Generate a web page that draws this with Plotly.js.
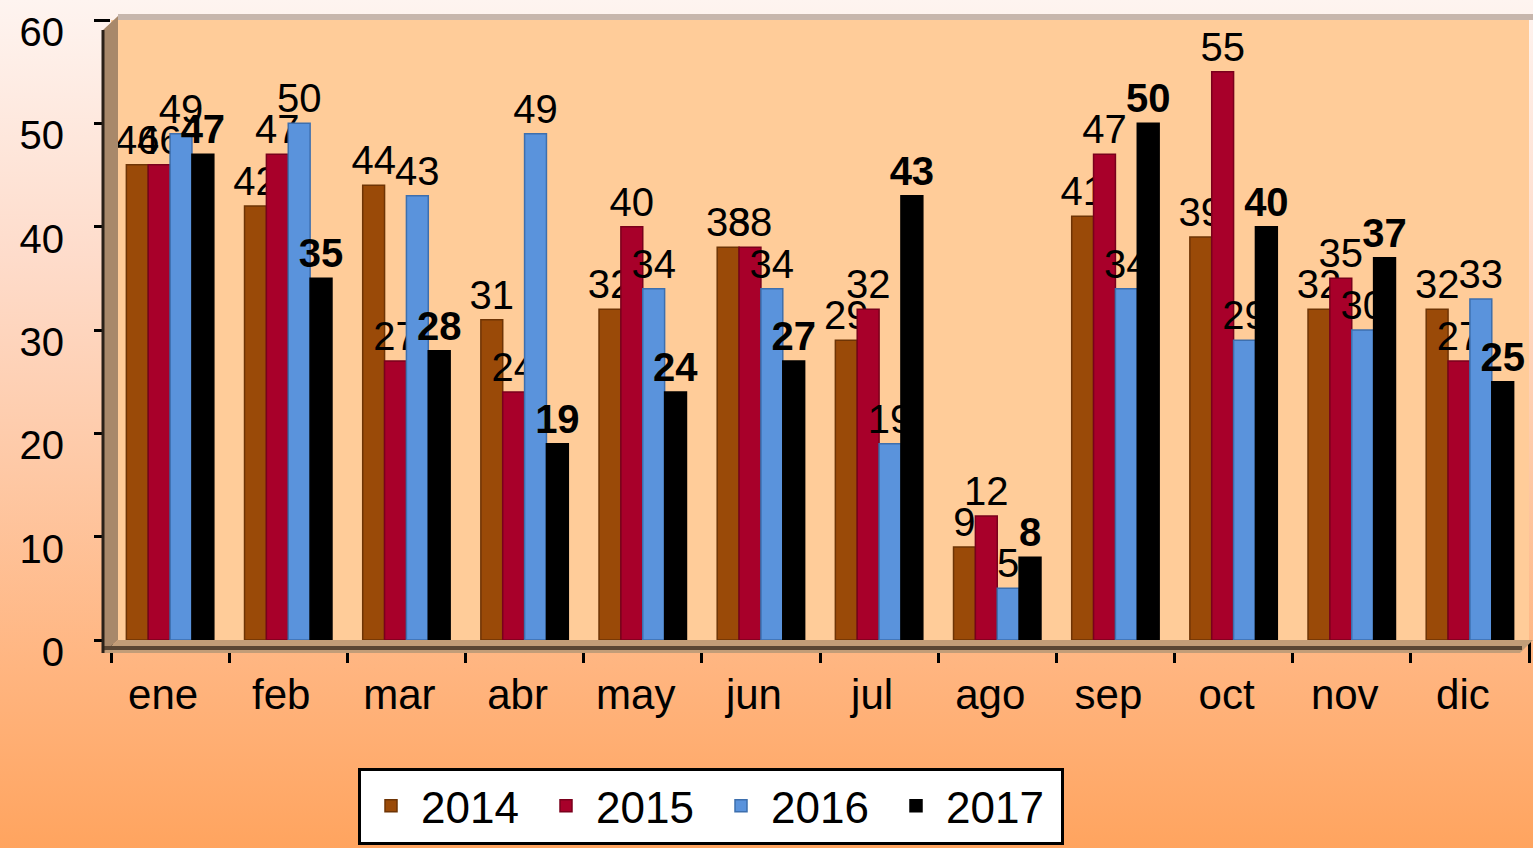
<!DOCTYPE html>
<html>
<head>
<meta charset="utf-8">
<script src="https://cdn.plot.ly/plotly-3.0.1.min.js"></script>
<style>
  html, body { margin: 0; padding: 0; }
  body { width: 1533px; height: 848px; overflow: hidden;
         background: linear-gradient(to bottom, #fef4f0 0%, #fedccb 30%, #fec9a6 55%, #ffb47e 80%, #ffa45f 100%); }
  #chart { width: 1533px; height: 848px; }
</style>
</head>
<body>
<div id="chart"></div>
<script>
const months = ["ene","feb","mar","abr","may","jun","jul","ago","sep","oct","nov","dic"];
const seriesNames = ["2014","2015","2016","2017"];
const v2014 = [46, 42, 44, 31, 32, 38, 29, 9, 41, 39, 32, 32];
const v2015 = [46, 47, 27, 24, 40, 38, 32, 12, 47, 55, 35, 27];
const v2016 = [49, 50, 43, 49, 34, 34, 19, 5, 34, 29, 30, 33];
const v2017 = [47, 35, 28, 19, 24, 27, 43, 8, 50, 40, 37, 25];
const colors = ["#9a4a08", "#a8002a", "#5a93dc", "#000000"];
const lineColors = ["#6e3405", "#7a001c", "#3d6fae", "#000000"];
const allValues = [v2014, v2015, v2016, v2017];

const traces = allValues.map((vals, i) => ({
  type: "bar",
  name: seriesNames[i],
  x: months,
  y: vals,
  text: vals.map(String),
  textposition: "outside",
  constraintext: "none",
  cliponaxis: false,
  textfont: { family: "Liberation Sans, Arial, sans-serif", size: 40, color: "#000",
              weight: i === 3 ? 700 : 400 },
  marker: { color: colors[i], line: { color: lineColors[i], width: 1.5 } },
  hoverinfo: "x+y+name"
}));

const W = 1533, H = 848;
const L = 111, R = 4, T = 20, B = 206;
const pw = W - L - R, ph = H - T - B;
const px = x => (x - L) / pw;
const py = y => (H - B - y) / ph;

const shapes = [
  { type: "rect", xref: "paper", yref: "paper", x0: px(118), x1: px(1533), y0: py(20), y1: py(14),
    fillcolor: "#c7b6ac", line: { width: 0 }, layer: "below" },
  { type: "path", xref: "paper", yref: "paper",
    path: `M ${px(103)} ${py(30)} L ${px(118)} ${py(16)} L ${px(118)} ${py(642)} L ${px(103)} ${py(655)} Z`,
    fillcolor: "#a8886a", line: { width: 0 }, layer: "above" },
  { type: "path", xref: "paper", yref: "paper",
    path: `M ${px(103)} ${py(655)} L ${px(118)} ${py(642)} L ${px(1533)} ${py(642)} L ${px(1520)} ${py(655)} Z`,
    fillcolor: "#c29d78", line: { width: 0 }, layer: "above" },
  { type: "line", xref: "paper", yref: "paper", x0: px(103), x1: px(1522), y0: py(650), y1: py(650),
    line: { color: "#5a4634", width: 4 }, layer: "above" },
  { type: "line", xref: "paper", yref: "paper", x0: px(103), x1: px(103), y0: py(30), y1: py(655),
    line: { color: "#2a2018", width: 3 }, layer: "above" }
];

const layout = {
  width: W, height: H,
  margin: { l: L, r: R, t: T, b: B, pad: 0 },
  paper_bgcolor: "rgba(0,0,0,0)",
  plot_bgcolor: "#ffcc99",
  font: { family: "Liberation Sans, Arial, sans-serif", color: "#000" },
  barmode: "group",
  bargap: 0.26,
  bargroupgap: 0,
  showlegend: true,
  xaxis: {
    type: "category",
    showgrid: false, zeroline: false, showline: false,
    ticks: "outside", tickson: "boundaries", ticklen: 22, tickwidth: 3, tickcolor: "#000",
    tickfont: { size: 42, color: "#000" },
    ticklabelshift: -7,
    ticklabelstandoff: 26
  },
  yaxis: {
    range: [0, 60], dtick: 10,
    showgrid: false, zeroline: false, showline: false,
    ticks: "outside", ticklen: 16, tickwidth: 3, tickcolor: "#000",
    tickfont: { size: 40, color: "#000" },
    ticklabelshift: 12,
    ticklabelstandoff: 22
  },
  legend: {
    orientation: "h",
    x: px(358), xanchor: "left",
    y: py(770), yanchor: "top",
    bgcolor: "#ffffff",
    bordercolor: "#000000",
    borderwidth: 3,
    font: { size: 44, color: "#000" },
    itemwidth: 50,
    entrywidth: 110,
    tracegroupgap: 0
  },
  shapes: shapes
};

Plotly.newPlot("chart", traces, layout, { displayModeBar: false, staticPlot: true });
</script>
</body>
</html>
